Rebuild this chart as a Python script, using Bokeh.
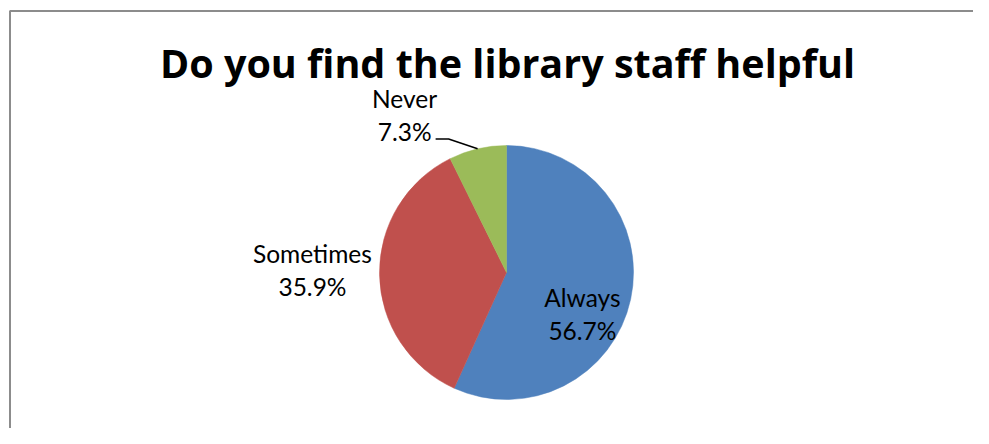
import math
from bokeh.plotting import figure
from bokeh.models import Range1d
from bokeh.core.properties import value
from bokeh.embed import file_html
from bokeh.resources import INLINE

title = "Do you find the library staff helpful"
categories = ["Always", "Sometimes", "Never"]
percents = [56.7, 35.9, 7.3]
pct_labels = ["56.7%", "35.9%", "7.3%"]
colors = ["#4F81BD", "#C0504D", "#9BBB59"]

W, H = 973, 428
p = figure(width=W, height=H, output_backend="svg", toolbar_location=None,
           x_range=Range1d(0, 973), y_range=Range1d(16, 444),
           min_border=0, outline_line_color=None)
p.axis.visible = False
p.grid.visible = False
p.background_fill_color = "white"

# chart-area border (left and top edges visible in reference)
p.line(x=[9.5, 9.5, 973], y=[16, 433.5, 433.5], line_color="#8c8c8c", line_width=2)

cx, cy, R = 506, 172, 127
total = sum(percents)
starts, ends, mids = [], [], []
acc = 0.0
for v in percents:
    a0 = math.radians(90 - acc / total * 360)
    acc += v
    a1 = math.radians(90 - acc / total * 360)
    starts.append(a0); ends.append(a1); mids.append((a0 + a1) / 2)

p.wedge(x=[cx] * 3, y=[cy] * 3, radius=R, start_angle=starts, end_angle=ends,
        direction="clock", fill_color=colors, line_color=colors, line_width=0.5)

# label placement (polar, relative to pie centre)
lbl_r = [0.683, 1.528, 1.477]
lbl_a = [-28.9, 179.4, 122.9]
font = value("Lato")
for i, name in enumerate(categories):
    ax = cx + lbl_r[i] * R * math.cos(math.radians(lbl_a[i]))
    ay = cy + lbl_r[i] * R * math.sin(math.radians(lbl_a[i]))
    p.text(x=[ax], y=[ay + 17], text=[name], text_font=font, text_font_size="24.5px",
           text_align="center", text_baseline="alphabetic", text_color="black")
    p.text(x=[ax], y=[ay - 16], text=[pct_labels[i]], text_font=font, text_font_size="24.5px",
           text_align="center", text_baseline="alphabetic", text_color="black")
    if i == 2:
        ex = cx + R * math.cos(mids[i])
        ey = cy + R * math.sin(mids[i])
        p.line(x=[ax + 31, ax + 44, ex], y=[ay - 24, ay - 24, ey],
               line_color="black", line_width=1.5)

p.text(x=[507], y=[382], text=[title], text_font=value("Open Sans"), text_font_style="bold",
       text_font_size="39.5px", text_align="center", text_baseline="alphabetic",
       text_color="black")

open("out.html", "w").write(file_html(p, INLINE))
